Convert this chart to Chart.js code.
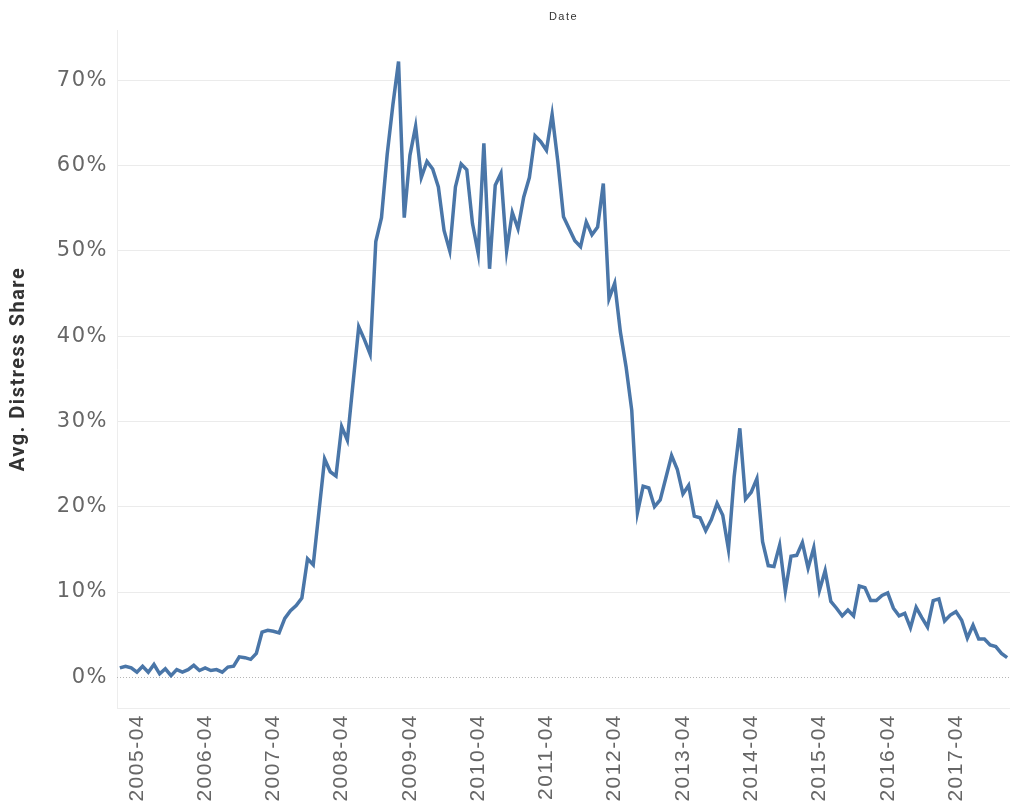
<!DOCTYPE html>
<html>
<head>
<meta charset="utf-8">
<script src="https://cdn.jsdelivr.net/npm/chart.js@4.4.1/dist/chart.umd.min.js"></script>
<style>
  html, body { margin: 0; padding: 0; background: #ffffff; }
  #c { display: block; }
</style>
</head>
<body>
<canvas id="c" width="1010" height="801"></canvas>
<script>
// Monthly series, first month below, one value per month (percent)
const firstYear = 2005;
const firstMonth = 1;
const distressShare = [
  1.1, 1.3, 1.1, 0.6, 1.3, 0.6, 1.5, 0.4, 1.0, 0.2, 0.9, 0.6,          // 2005
  0.9, 1.4, 0.8, 1.1, 0.8, 0.9, 0.6, 1.2, 1.3, 2.4, 2.3, 2.1,          // 2006
  2.8, 5.3, 5.5, 5.4, 5.2, 6.9, 7.8, 8.4, 9.3, 13.9, 13.2, 19.4,       // 2007
  25.6, 24.1, 23.6, 29.4, 27.8, 34.5, 41.1, 39.6, 37.9, 51.1, 53.9, 61.3, // 2008
  67.1, 72.2, 53.9, 61.2, 64.6, 58.6, 60.5, 59.6, 57.5, 52.4, 50.0, 57.5, // 2009
  60.2, 59.5, 53.2, 49.7, 62.6, 47.9, 57.7, 59.1, 50.0, 54.5, 52.6, 56.3, // 2010
  58.6, 63.5, 62.8, 61.8, 66.0, 60.5, 54.0, 52.6, 51.2, 50.5, 53.4, 51.9, // 2011
  52.8, 57.9, 44.4, 46.2, 40.5, 36.4, 31.3, 19.3, 22.4, 22.2, 20.0, 20.8, // 2012
  23.4, 26.0, 24.4, 21.5, 22.5, 18.9, 18.7, 17.2, 18.5, 20.4, 19.0, 15.0, // 2013
  23.5, 29.2, 20.9, 21.7, 23.3, 15.9, 13.1, 13.0, 15.5, 10.1, 14.2, 14.3, // 2014
  15.8, 12.8, 15.2, 10.2, 12.5, 8.9, 8.1, 7.2, 7.9, 7.2, 10.7, 10.5,   // 2015
  9.0, 9.0, 9.6, 9.9, 8.1, 7.2, 7.5, 5.8, 8.2, 7.0, 5.9, 9.0,          // 2016
  9.2, 6.6, 7.3, 7.7, 6.7, 4.6, 6.1, 4.5, 4.5, 3.8, 3.6, 2.8,          // 2017
  2.3                                                                  // 2018
];
const yTickValues = [0, 10, 20, 30, 40, 50, 60, 70];
const labelledMonth = '04';

// "YYYY-MM" category for every value
const months = distressShare.map((_, i) => {
  const m = firstMonth - 1 + i;
  const y = firstYear + Math.floor(m / 12);
  return y + '-' + String((m % 12) + 1).padStart(2, '0');
});

const labelFont = 'Liberation Sans';

// slightly tracked text, and a dotted baseline at 0%
const chartStyle = {
  id: 'chartStyle',
  beforeDraw(chart) {
    if ('letterSpacing' in chart.ctx) chart.ctx.letterSpacing = '1.5px';
  },
  beforeDatasetsDraw(chart) {
    const { ctx, chartArea, scales } = chart;
    const y = Math.round(scales.y.getPixelForValue(0)) + 0.5;
    ctx.save();
    ctx.strokeStyle = '#b5b5b5';
    ctx.lineWidth = 1;
    ctx.setLineDash([1, 2]);
    ctx.beginPath();
    ctx.moveTo(chartArea.left, y);
    ctx.lineTo(chartArea.right, y);
    ctx.stroke();
    ctx.restore();
  }
};

new Chart(document.getElementById('c'), {
  type: 'line',
  data: {
    labels: months,
    datasets: [{
      label: 'Avg. Distress Share',
      data: distressShare,
      borderColor: '#4a76a8',
      borderWidth: 3.5,
      pointRadius: 0,
      tension: 0,
      fill: false
    }]
  },
  options: {
    responsive: false,
    animation: false,
    devicePixelRatio: 1,
    layout: { padding: 0 },
    plugins: {
      legend: { display: false },
      tooltip: { enabled: false },
      title: { display: false }
    },
    scales: {
      x: {
        type: 'category',
        offset: true,
        grid: { display: false, drawTicks: false },
        border: { display: true, color: '#ededed' },
        ticks: {
          autoSkip: false,
          minRotation: 90,
          maxRotation: 90,
          padding: 6,
          color: '#666666',
          font: { family: labelFont, size: 21 },
          callback(value, index) {
            const m = months[index];
            return m.endsWith('-' + labelledMonth) ? m : null;
          }
        },
        afterFit(scale) { scale.height = 93; }
      },
      xTop: {
        type: 'category',
        position: 'top',
        offset: true,
        grid: { display: false, drawTicks: false },
        border: { display: false },
        ticks: { display: false },
        title: {
          display: true,
          text: 'Date',
          color: '#333333',
          font: { family: labelFont, size: 11 },
          padding: { top: 10, bottom: 0 }
        },
        afterFit(scale) { scale.height = 30; }
      },
      y: {
        min: -3.6,
        max: 75.9,
        afterBuildTicks(scale) {
          scale.ticks = yTickValues.map(v => ({ value: v }));
        },
        grid: {
          drawTicks: false,
          color: ctx => (ctx.tick && ctx.tick.value === 0) ? 'rgba(0,0,0,0)' : '#ebebeb',
          lineWidth: 1
        },
        border: { display: true, color: '#ededed' },
        ticks: {
          padding: 9,
          color: '#666666',
          font: { family: 'DejaVu Sans', size: 21 },
          callback: v => v + '%'
        },
        title: {
          display: true,
          text: 'Avg. Distress Share',
          color: '#333333',
          font: { family: 'Roboto', size: 20, weight: 'bold' },
          padding: { top: 7, bottom: 0 }
        },
        afterFit(scale) { scale.width = 117; }
      }
    }
  },
  plugins: [chartStyle]
});
</script>
</body>
</html>
